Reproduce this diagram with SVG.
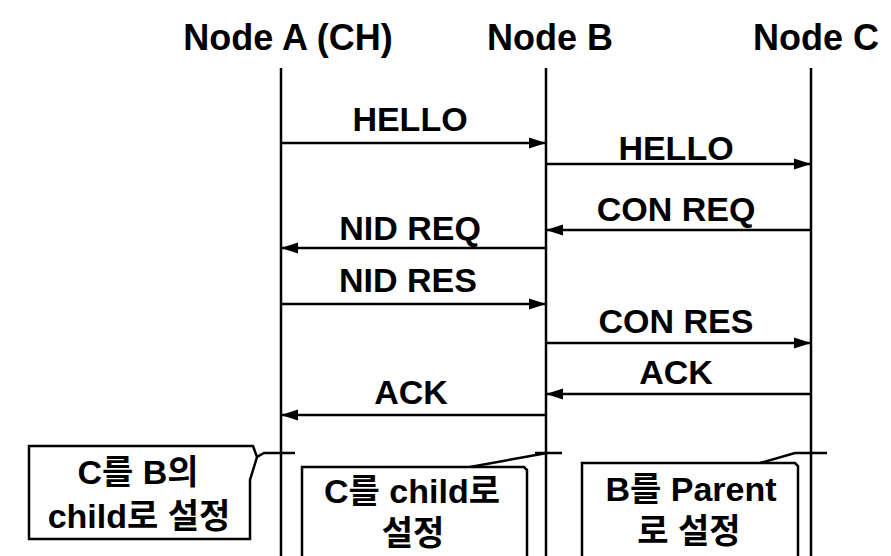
<svg xmlns="http://www.w3.org/2000/svg" width="891" height="556" viewBox="0 0 891 556">
<style>
.hd{font-family:"Liberation Sans",Arial,sans-serif;font-weight:bold;font-size:36px;fill:#000;text-anchor:middle}
.lb{font-family:"Liberation Sans",Arial,sans-serif;font-weight:bold;font-size:34px;fill:#000;text-anchor:middle}
.kr{font-family:"Liberation Sans","Noto Sans CJK KR",sans-serif;font-weight:bold;font-size:34px;fill:#000;text-anchor:middle}
.ll{stroke:#000;stroke-width:2.5;fill:none}
.msg{stroke:#000;stroke-width:2.5;fill:none;marker-end:url(#ah)}
.bx{stroke:#000;stroke-width:2.5;fill:#fff}
.pt{stroke:#000;stroke-width:2.5;fill:none}
</style>
<defs>
<marker id="ah" markerUnits="userSpaceOnUse" markerWidth="18" markerHeight="14" refX="17" refY="7" orient="auto">
<path d="M0,1.5 L17,7 L0,12.5 Z" fill="#000"/>
</marker>
</defs>
<rect width="891" height="556" fill="#fff"/>
<g id="nodeA">
<text class="hd" x="288" y="50">Node A (CH)</text>
<line class="ll" x1="281" y1="68" x2="281" y2="556"/>
</g>
<g id="nodeB">
<text class="hd" x="550" y="50">Node B</text>
<line class="ll" x1="546" y1="68" x2="546" y2="556"/>
</g>
<g id="nodeC">
<text class="hd" x="816" y="50">Node C</text>
<line class="ll" x1="811" y1="68" x2="811" y2="556"/>
</g>
<g id="connectors">
<line class="msg" x1="281" y1="143" x2="546" y2="143"/>
<line class="msg" x1="546" y1="164" x2="811" y2="164"/>
<line class="msg" x1="811" y1="230" x2="546" y2="230"/>
<line class="msg" x1="546" y1="248" x2="281" y2="248"/>
<line class="msg" x1="281" y1="304" x2="546" y2="304"/>
<line class="msg" x1="546" y1="343" x2="811" y2="343"/>
<line class="msg" x1="811" y1="394" x2="546" y2="394"/>
<line class="msg" x1="546" y1="415" x2="281" y2="415"/>
<path class="pt" d="M257,457 L264,453 H295"/>
<path class="pt" d="M470,467 L547,453 H562"/>
<line class="pt" x1="535" y1="453" x2="547" y2="453"/>
<path class="pt" d="M760,463 L795,453 H827"/>
</g>
<g id="labels">
<text class="lb" x="410" y="131">HELLO</text>
<text class="lb" x="676" y="160">HELLO</text>
<text class="lb" x="676" y="221">CON REQ</text>
<text class="lb" x="410" y="240">NID REQ</text>
<text class="lb" x="408" y="292">NID RES</text>
<text class="lb" x="676" y="333">CON RES</text>
<text class="lb" x="676" y="384">ACK</text>
<text class="lb" x="411" y="404">ACK</text>
</g>
<g id="box1">
<path class="bx" d="M29,446 L253,446 L257,457 L250,480 L250,539 L29,539 Z"/>
<text class="kr" x="138" y="484">C를 B의</text>
<text class="kr" x="139" y="528">child로 설정</text>
</g>
<g id="box2">
<path class="bx" d="M302,558 V467 H524 L527,470 V558"/>
<text class="kr" x="412" y="503">C를 child로</text>
<text class="kr" x="413" y="545">설정</text>
</g>
<g id="box3">
<path class="bx" d="M582,558 V463 H795 L798,466 V558"/>
<text class="kr" x="691" y="501">B를 Parent</text>
<text class="kr" x="689" y="543">로 설정</text>
</g>
</svg>
